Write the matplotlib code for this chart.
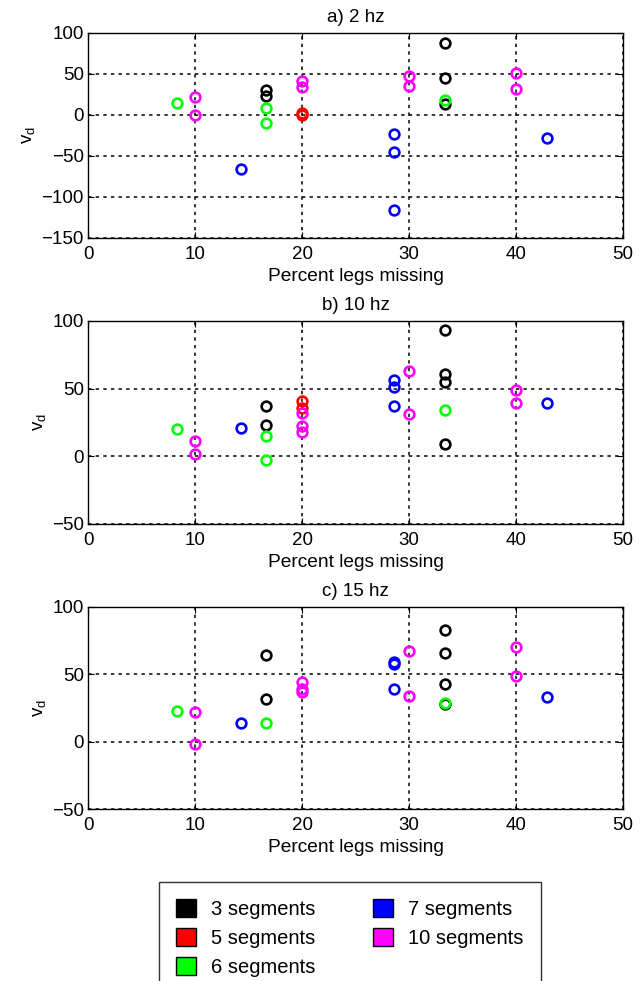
import matplotlib
matplotlib.use("Agg")
import matplotlib.pyplot as plt
from matplotlib.patches import Patch

plt.rcParams['font.family'] = ['Liberation Sans', 'DejaVu Sans']
plt.rcParams['font.size'] = 13.5

# segment groups
labels = ["3 segments", "5 segments", "6 segments", "7 segments", "10 segments"]
colors = ["#000000", "#ff0000", "#00ff00", "#0000ff", "#ff00ff"]

# a) 2 hz
a_x = [
    [16.67, 16.67, 33.33, 33.33, 33.33],
    [20, 20],
    [8.33, 16.67, 16.67, 33.33],
    [14.29, 28.57, 28.57, 28.57, 42.86],
    [10, 10, 20, 20, 30, 30, 40, 40],
]
a_y = [
    [31, 23, 88, 45, 13],
    [2, 0],
    [15, 9, -10, 18],
    [-66, -23, -45, -116, -28],
    [22, 0, 42, 34, 47, 35, 51, 32],
]

# b) 10 hz
b_x = [
    [16.67, 16.67, 33.33, 33.33, 33.33, 33.33],
    [20, 20],
    [8.33, 16.67, 16.67, 33.33],
    [14.29, 28.57, 28.57, 28.57, 42.86],
    [10, 10, 20, 20, 20, 30, 30, 40, 40],
]
b_y = [
    [37, 23, 93, 61, 55, 9],
    [41, 36],
    [20.5, 15, -2.5, 34],
    [21, 56, 51, 37, 39],
    [11, 2, 32, 22, 18, 63, 31, 49, 39],
]

# c) 15 hz
c_x = [
    [16.67, 16.67, 33.33, 33.33, 33.33, 33.33],
    [],
    [8.33, 16.67, 33.33],
    [14.29, 28.57, 28.57, 28.57, 42.86],
    [10, 10, 20, 20, 20, 30, 30, 40, 40],
]
c_y = [
    [64.5, 32, 83, 66, 43, 28],
    [],
    [23, 14, 29],
    [14, 59, 57.5, 39, 33],
    [22, -2, 44, 39, 36.5, 67, 34, 70.5, 49],
]

panels = [
    ("a) 2 hz", a_x, a_y, (-150, 100), [-150, -100, -50, 0, 50, 100]),
    ("b) 10 hz", b_x, b_y, (-50, 100), [-50, 0, 50, 100]),
    ("c) 15 hz", c_x, c_y, (-50, 100), [-50, 0, 50, 100]),
]
xticks = [0, 10, 20, 30, 40, 50]

fig = plt.figure(figsize=(6.43, 9.81), dpi=100)
rects = [
    [0.1369, 0.7574, 0.832, 0.209],
    [0.1369, 0.4659, 0.832, 0.207],
    [0.1369, 0.1753, 0.832, 0.206],
]

for rect, (title, xs, ys, ylim, yticks) in zip(rects, panels):
    ax = fig.add_axes(rect)
    for x, y, c in zip(xs, ys, colors):
        ax.plot(x, y, 'o', mfc='none', mec=c, ms=7, mew=1.9, zorder=3)
    ax.set_xlim(0, 50)
    ax.set_ylim(*ylim)
    ax.set_xticks(xticks)
    ax.set_yticks(yticks)
    ax.grid(True, color='black', linestyle=(0, (2.2, 2.8)), linewidth=1.1)
    ax.tick_params(direction='in', top=True, right=True, length=4, width=0.8,
                   labelsize=13.5)
    ax.tick_params(axis='x', pad=5.5)
    ax.tick_params(axis='y', pad=3)
    for s in ax.spines.values():
        s.set_linewidth(1.0)
    ax.set_title(title, pad=8, fontsize=13.5)
    ax.set_xlabel("Percent legs missing", labelpad=4, fontsize=13.8)
    ax.set_ylabel(r"$\mathregular{v_d}$", labelpad=3, fontsize=13.5)

handles = [Patch(facecolor=c, edgecolor='black', linewidth=1.0) for c in colors]
leg = fig.legend(handles, labels, ncol=2, loc='upper left',
                 bbox_to_anchor=(159 / 643, 1 - 882 / 981),
                 frameon=True, fancybox=False, edgecolor='black',
                 handlelength=1.0, handleheight=1.0, handletextpad=0.75,
                 columnspacing=2.85, labelspacing=0.45, borderpad=0.85,
                 borderaxespad=0, fontsize=14.5)
leg.get_frame().set_linewidth(1.0)

fig.savefig("out.png", dpi=100)
